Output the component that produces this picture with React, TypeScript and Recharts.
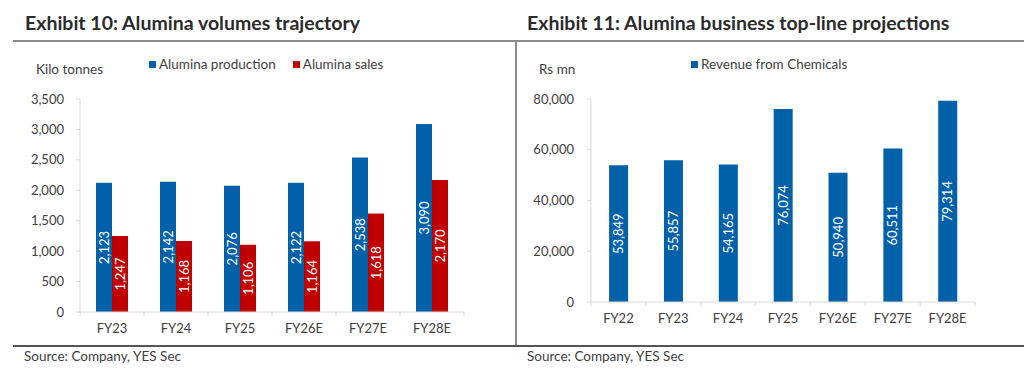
import React from 'react';
import { BarChart, Bar, XAxis, YAxis, LabelList, Legend } from 'recharts';

const volCategories = ['FY23', 'FY24', 'FY25', 'FY26E', 'FY27E', 'FY28E'];
const aluminaProduction = [2123, 2142, 2076, 2122, 2538, 3090];
const aluminaSales = [1247, 1168, 1106, 1164, 1618, 2170];
const volTicks = [0, 500, 1000, 1500, 2000, 2500, 3000, 3500];

const revCategories = ['FY22', 'FY23', 'FY24', 'FY25', 'FY26E', 'FY27E', 'FY28E'];
const revenueChemicals = [53849, 55857, 54165, 76074, 50940, 60511, 79314];
const revTicks = [0, 20000, 40000, 60000, 80000];

const volData = volCategories.map((c, i) => ({ cat: c, production: aluminaProduction[i], sales: aluminaSales[i] }));
const revData = revCategories.map((c, i) => ({ cat: c, revenue: revenueChemicals[i] }));

const BLUE = '#0060A8';
const RED = '#C00000';
const AXIS = '#D9D9D9';
const TEXT = '#404040';
const FONT = 'Lato, "Open Sans", sans-serif';

const fmt = (v: any) => Number(v).toLocaleString('en-US');

const XTick = (props: any) => {
  const { x, y, payload, width, visibleTicksCount, index } = props;
  const half = payload && typeof payload.offset === 'number' && payload.offset > 0
    ? payload.offset
    : width / visibleTicksCount / 2;
  return (
    <g>
      <line x1={x - half} y1={y} x2={x - half} y2={y + 4} stroke={AXIS} />
      {index === visibleTicksCount - 1 && (
        <line x1={x + half} y1={y} x2={x + half} y2={y + 4} stroke={AXIS} />
      )}
      <text x={x} y={y + 18} textAnchor="middle" dominantBaseline="middle" fontSize={13} fill={TEXT} fontFamily={FONT}>
        {payload.value}
      </text>
    </g>
  );
};

const LegendContent = (items: { label: string; color: string }[], gap: number) => () => (
  <div style={{ display: 'flex', alignItems: 'center', fontFamily: FONT, fontSize: 13.5, color: TEXT, whiteSpace: 'nowrap' }}>
    {items.map((it, i) => (
      <div key={i} style={{ display: 'flex', alignItems: 'center', marginRight: gap }}>
        <span style={{ display: 'inline-block', width: 7, height: 7, background: it.color, marginRight: 3 }} />
        <span>{it.label}</span>
      </div>
    ))}
  </div>
);

const titleStyle: React.CSSProperties = {
  position: 'absolute', fontFamily: FONT, fontWeight: 700, fontSize: 19.5, color: '#2B2B2B', whiteSpace: 'nowrap', lineHeight: '24px',
};
const smallStyle: React.CSSProperties = {
  position: 'absolute', fontFamily: FONT, fontSize: 13.5, color: TEXT, whiteSpace: 'nowrap',
};

export default function App() {
  return (
    <div style={{ position: 'absolute', left: 0, top: 0, width: 1024, height: 372, background: '#fff', overflow: 'hidden' }}>
      <div style={{ ...titleStyle, left: 25, top: 11 }}>Exhibit 10: Alumina volumes trajectory</div>
      <div style={{ ...titleStyle, left: 527, top: 11 }}>Exhibit 11: Alumina business top-line projections</div>
      <div style={{ position: 'absolute', left: 13, top: 40, width: 1011, height: 1.5, background: '#8A8A8A' }} />
      <div style={{ position: 'absolute', left: 515, top: 40, width: 1.5, height: 305, background: '#8A8A8A' }} />
      <div style={{ position: 'absolute', left: 13, top: 345, width: 1011, height: 1.5, background: '#555' }} />
      <div style={{ ...smallStyle, left: 24, top: 348 }}>Source: Company, YES Sec</div>
      <div style={{ ...smallStyle, left: 527, top: 348 }}>Source: Company, YES Sec</div>
      <div style={{ ...smallStyle, left: 36, top: 61 }}>Kilo tonnes</div>
      <div style={{ ...smallStyle, left: 539, top: 61 }}>Rs mn</div>

      <div style={{ position: 'absolute', left: 0, top: 0 }}>
        <BarChart width={512} height={372} data={volData} margin={{ top: 99, right: 48, bottom: 30, left: 20 }} barCategoryGap="25%" barGap={0}>
          <XAxis dataKey="cat" height={30} axisLine={{ stroke: AXIS }} tickLine={false} tickSize={0} tickMargin={0} tick={<XTick />} interval={0} />
          <YAxis width={60} domain={[0, 3500]} ticks={volTicks} tickFormatter={fmt} axisLine={{ stroke: AXIS }} tickLine={{ stroke: AXIS }} tickSize={4} tickMargin={12} tick={{ fontSize: 13, fill: TEXT, fontFamily: FONT }} interval={0} />
          <Legend verticalAlign="middle" align="center" wrapperStyle={{ top: 56, left: 149, width: 'auto' }}
            content={LegendContent([{ label: 'Alumina production', color: BLUE }, { label: 'Alumina sales', color: RED }], 17)} />
          <Bar dataKey="production" fill={BLUE} isAnimationActive={false}>
            <LabelList dataKey="production" position="center" angle={-90} formatter={fmt} fill="#fff" fontSize={13} fontFamily={FONT} />
          </Bar>
          <Bar dataKey="sales" fill={RED} isAnimationActive={false}>
            <LabelList dataKey="sales" position="center" angle={-90} formatter={fmt} fill="#fff" fontSize={13} fontFamily={FONT} />
          </Bar>
        </BarChart>
      </div>

      <div style={{ position: 'absolute', left: 512, top: 0 }}>
        <BarChart width={512} height={372} data={revData} margin={{ top: 99, right: 49, bottom: 40, left: 19 }} barCategoryGap="33%">
          <XAxis dataKey="cat" height={30} axisLine={{ stroke: AXIS }} tickLine={false} tickSize={0} tickMargin={0} tick={<XTick />} interval={0} />
          <YAxis width={60} domain={[0, 80000]} ticks={revTicks} tickFormatter={fmt} axisLine={{ stroke: AXIS }} tickLine={{ stroke: AXIS }} tickSize={4} tickMargin={13} tick={{ fontSize: 13, fill: TEXT, fontFamily: FONT }} interval={0} />
          <Legend verticalAlign="middle" align="center" wrapperStyle={{ top: 56, left: 179, width: 'auto' }}
            content={LegendContent([{ label: 'Revenue from Chemicals', color: BLUE }], 0)} />
          <Bar dataKey="revenue" fill={BLUE} isAnimationActive={false}>
            <LabelList dataKey="revenue" position="center" angle={-90} formatter={fmt} fill="#fff" fontSize={13} fontFamily={FONT} />
          </Bar>
        </BarChart>
      </div>
    </div>
  );
}
